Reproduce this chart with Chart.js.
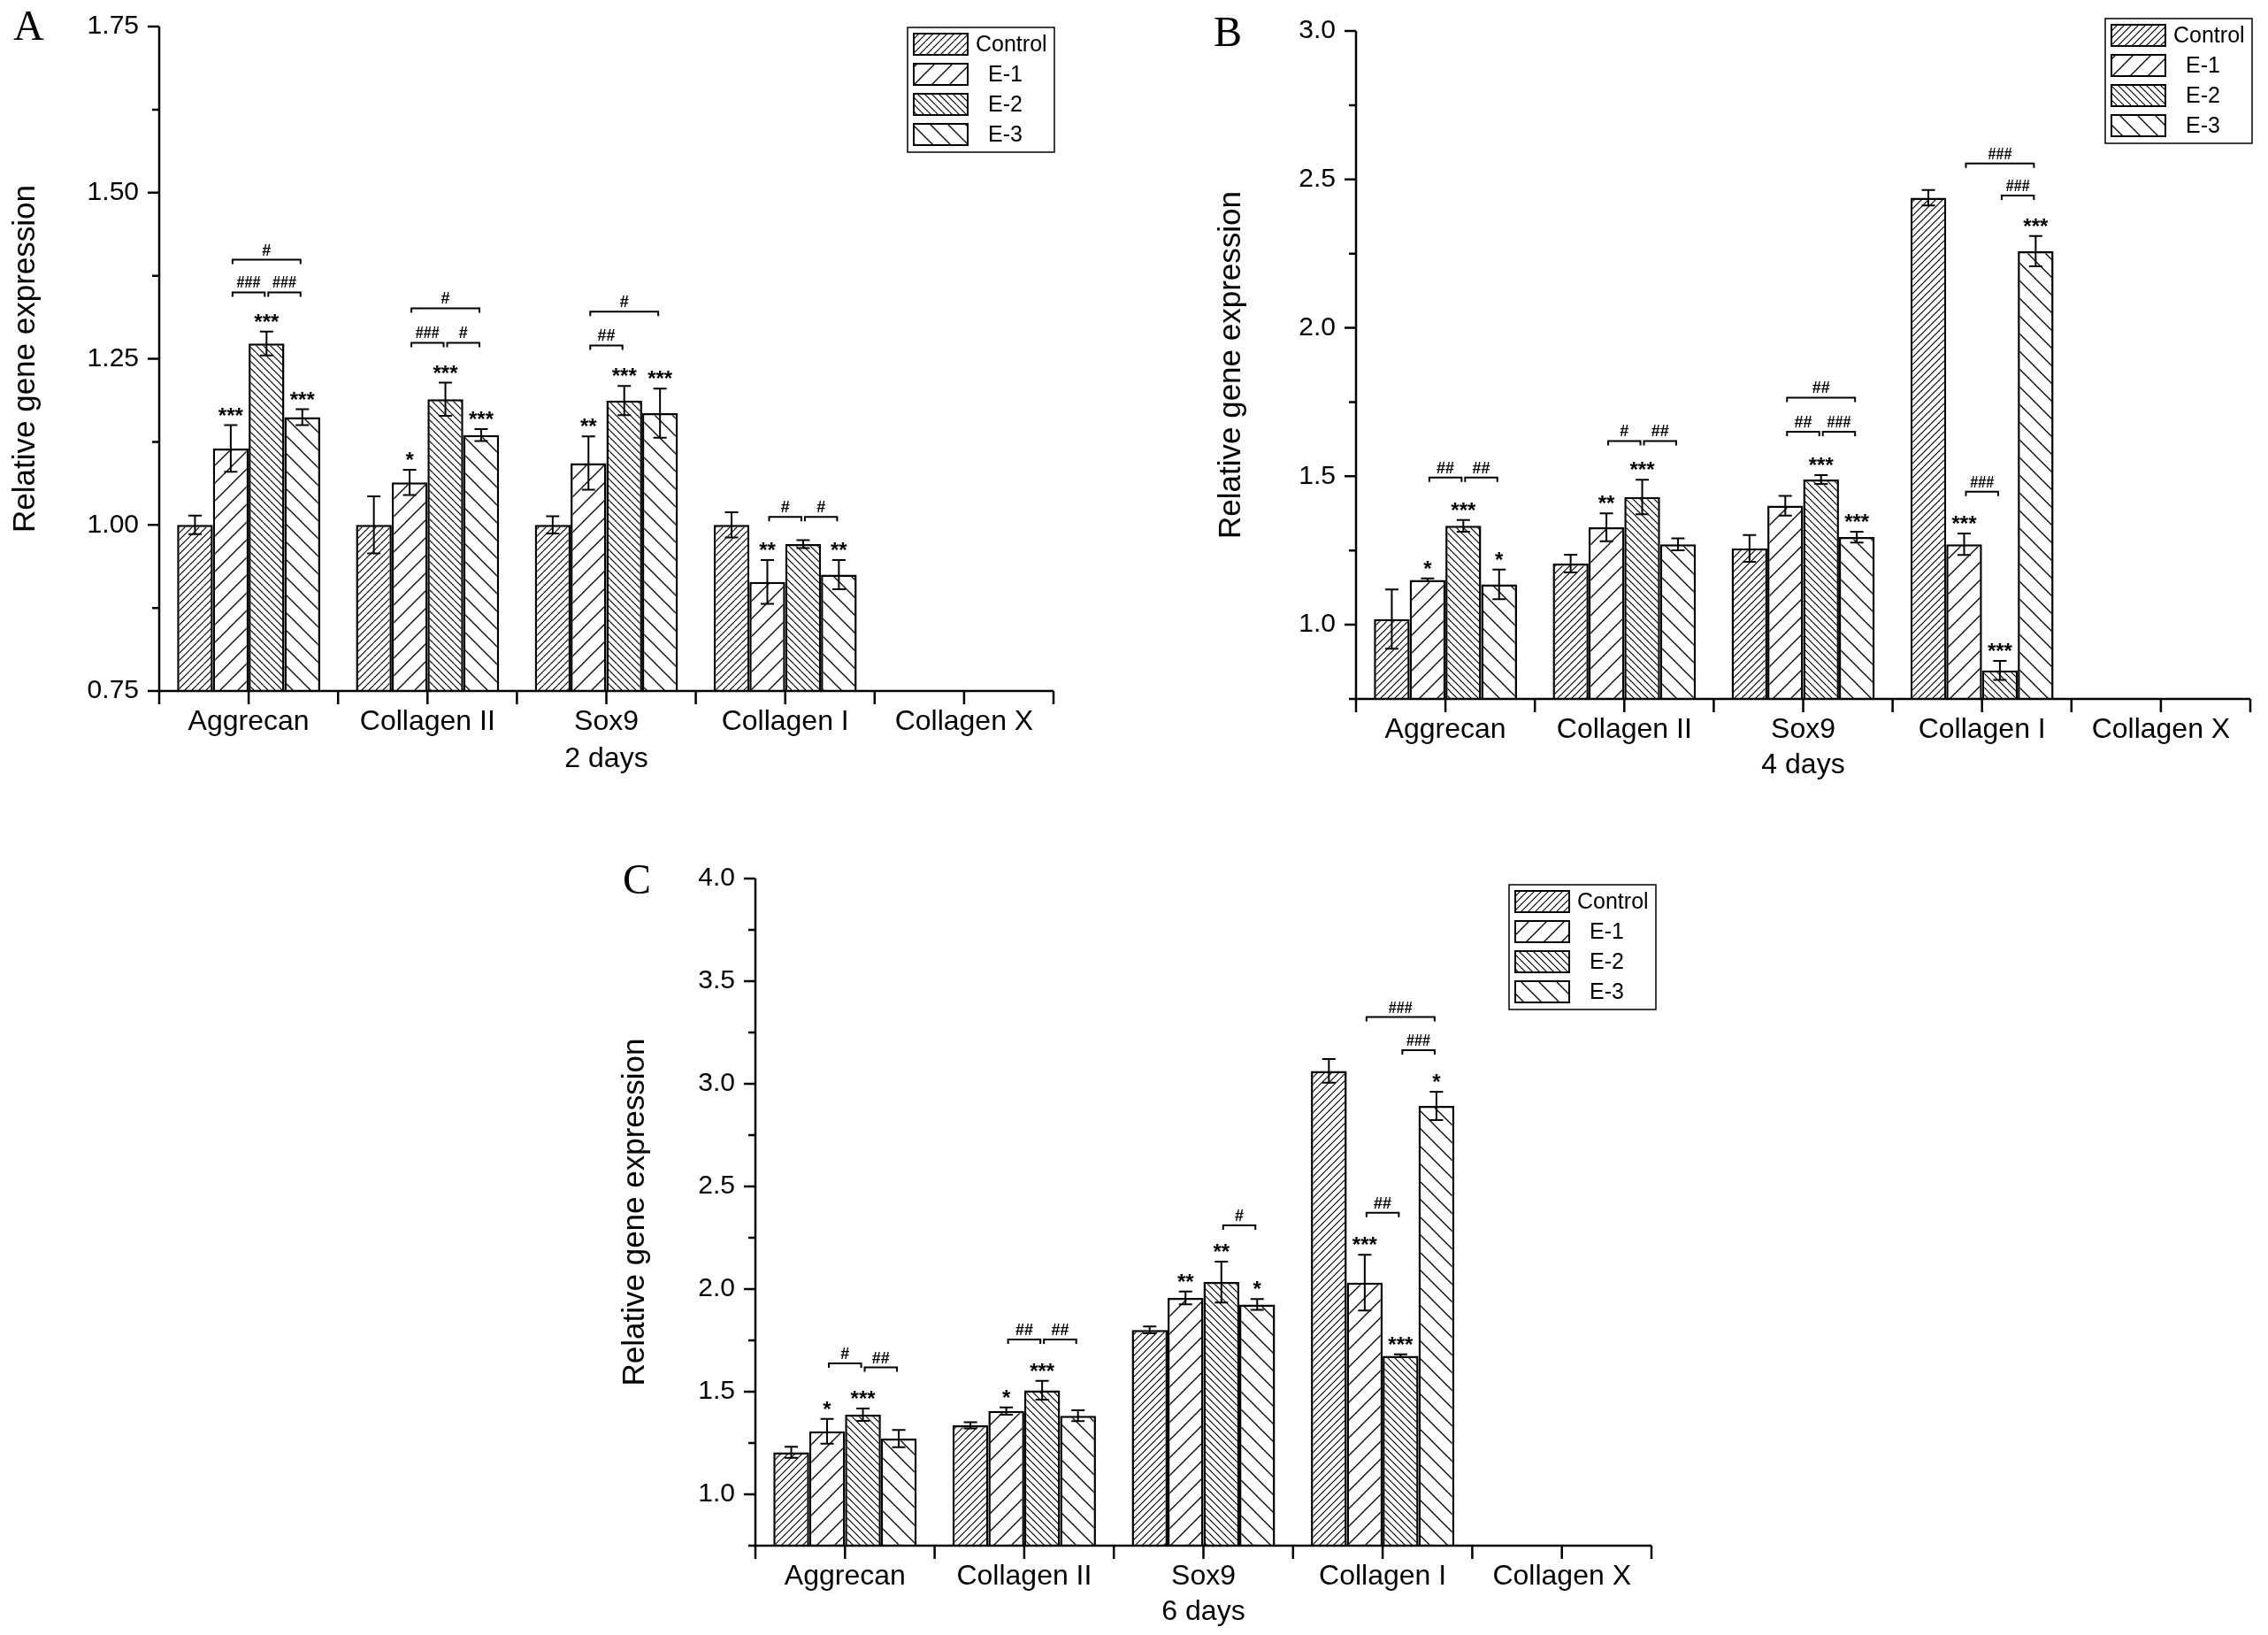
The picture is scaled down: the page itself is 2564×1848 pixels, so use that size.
<!DOCTYPE html>
<html>
<head>
<meta charset="utf-8">
<script src="https://cdn.jsdelivr.net/npm/chart.js@4.4.0/dist/chart.umd.min.js"></script>
<style>
  html, body { margin: 0; padding: 0; background: #fff; }
  body { width: 2564px; height: 1848px; position: relative; overflow: hidden; }
  canvas { position: absolute; }
  .letter { position: absolute; font-family: 'Liberation Serif', 'Times New Roman', serif; font-size: 48px; line-height: 48px; color: #000; }
</style>
</head>
<body>
<canvas id="chartA" width="1240" height="911" style="left:0px;top:-11px"></canvas>
<canvas id="chartB" width="1224" height="906" style="left:1340px;top:-6px"></canvas>
<canvas id="chartC" width="1280" height="898" style="left:640px;top:950px"></canvas>
<div class="letter" style="left:15px;top:5px">A</div>
<div class="letter" style="left:1372px;top:12px">B</div>
<div class="letter" style="left:704px;top:970px">C</div>
<script>
const categories = ['Aggrecan', 'Collagen II', 'Sox9', 'Collagen I', 'Collagen X'];
const groupNames = ['Control', 'E-1', 'E-2', 'E-3'];

// A - 2 days
const controlA = [1.000, 1.000, 1.000, 1.000, null];
const e1A = [1.115, 1.064, 1.093, 0.914, null];
const e2A = [1.273, 1.189, 1.187, 0.971, null];
const e3A = [1.162, 1.135, 1.168, 0.925, null];
const controlErrA = [0.014, 0.043, 0.013, 0.019, null];
const e1ErrA = [0.035, 0.019, 0.040, 0.033, null];
const e2ErrA = [0.018, 0.025, 0.022, 0.006, null];
const e3ErrA = [0.012, 0.009, 0.037, 0.022, null];
const starsA = [
  ['', '', '', '', ''],
  ['***', '*', '**', '**', ''],
  ['***', '***', '***', '', ''],
  ['***', '***', '***', '**', '']
];
// [category, from group, to group, y value, label]
const bracketsA = [
  [0, 1, 2, 1.350, '###'], [0, 2, 3, 1.350, '###'], [0, 1, 3, 1.399, '#'],
  [1, 1, 2, 1.274, '###'], [1, 2, 3, 1.274, '#'], [1, 1, 3, 1.326, '#'],
  [2, 1, 2, 1.270, '##'], [2, 1, 3, 1.321, '#'],
  [3, 1, 2, 1.012, '#'], [3, 2, 3, 1.012, '#']
];

// B - 4 days
const controlB = [1.019, 1.206, 1.257, 2.438, null];
const e1B = [1.151, 1.328, 1.401, 1.271, null];
const e2B = [1.333, 1.430, 1.489, 0.846, null];
const e3B = [1.136, 1.271, 1.295, 2.258, null];
const controlErrB = [0.100, 0.030, 0.045, 0.026, null];
const e1ErrB = [0.005, 0.047, 0.033, 0.036, null];
const e2ErrB = [0.020, 0.058, 0.015, 0.032, null];
const e3ErrB = [0.050, 0.020, 0.018, 0.051, null];
const starsB = [
  ['', '', '', '', ''],
  ['*', '**', '', '***', ''],
  ['***', '***', '***', '***', ''],
  ['*', '', '***', '***', '']
];
const bracketsB = [
  [0, 1, 2, 1.496, '##'], [0, 2, 3, 1.496, '##'],
  [1, 1, 2, 1.619, '#'], [1, 2, 3, 1.619, '##'],
  [2, 1, 2, 1.650, '##'], [2, 2, 3, 1.650, '###'], [2, 1, 3, 1.765, '##'],
  [3, 1, 2, 1.448, '###'], [3, 2, 3, 2.446, '###'], [3, 1, 3, 2.554, '###']
];

// C - 6 days
const controlC = [1.205, 1.336, 1.801, 3.063, null];
const e1C = [1.307, 1.406, 1.957, 2.031, null];
const e2C = [1.388, 1.507, 2.034, 1.675, null];
const e3C = [1.272, 1.383, 1.925, 2.892, null];
const controlErrC = [0.027, 0.015, 0.017, 0.058, null];
const e1ErrC = [0.060, 0.018, 0.031, 0.136, null];
const e2ErrC = [0.030, 0.046, 0.100, 0.007, null];
const e3ErrC = [0.042, 0.026, 0.026, 0.069, null];
const starsC = [
  ['', '', '', '', ''],
  ['*', '*', '**', '***', ''],
  ['***', '***', '**', '***', ''],
  ['', '', '*', '*', '']
];
const bracketsC = [
  [0, 1, 2, 1.638, '#'], [0, 2, 3, 1.618, '##'],
  [1, 1, 2, 1.754, '##'], [1, 2, 3, 1.754, '##'],
  [2, 2, 3, 2.310, '#'],
  [3, 1, 2, 2.372, '##'], [3, 2, 3, 3.164, '###'], [3, 1, 3, 3.325, '###']
];

const FONT = "'Liberation Sans', Arial, Helvetica, sans-serif";
Chart.defaults.font.family = FONT;
Chart.defaults.color = '#000';

// diagonal hatch tile; dir 1 = "/", dir -1 = "\"
function hatch(ctx, size, dir, lw) {
  const c = document.createElement('canvas');
  c.width = c.height = size;
  const g = c.getContext('2d');
  g.fillStyle = '#fff';
  g.fillRect(0, 0, size, size);
  g.strokeStyle = '#000';
  g.lineWidth = lw;
  g.beginPath();
  if (dir > 0) {
    g.moveTo(-1, size + 1); g.lineTo(size + 1, -1);
    g.moveTo(-1, 1); g.lineTo(1, -1);
    g.moveTo(size - 1, size + 1); g.lineTo(size + 1, size - 1);
  } else {
    g.moveTo(-1, -1); g.lineTo(size + 1, size + 1);
    g.moveTo(size - 1, -1); g.lineTo(size + 1, 1);
    g.moveTo(-1, size - 1); g.lineTo(1, size + 1);
  }
  g.stroke();
  return ctx.createPattern(c, 'repeat');
}

const extras = {
  id: 'extras',
  afterDatasetsDraw(chart, args, o) {
    const ctx = chart.ctx, y = chart.scales.y;
    ctx.save();
    ctx.strokeStyle = '#000';
    ctx.lineWidth = 2;
    chart.data.datasets.forEach((ds, di) => {
      chart.getDatasetMeta(di).data.forEach((bar, i) => {
        const v = ds.data[i], e = o.errors[di][i];
        if (v == null || e == null) return;
        const yt = y.getPixelForValue(v + e), yb = y.getPixelForValue(v - e);
        ctx.beginPath();
        ctx.moveTo(bar.x, yt); ctx.lineTo(bar.x, yb);
        ctx.moveTo(bar.x - 7.5, yt); ctx.lineTo(bar.x + 7.5, yt);
        ctx.moveTo(bar.x - 7.5, yb); ctx.lineTo(bar.x + 7.5, yb);
        ctx.stroke();
      });
    });
    ctx.restore();
  },
  afterDraw(chart, args, o) {
    const ctx = chart.ctx, x = chart.scales.x, y = chart.scales.y;
    const {left, right, top, bottom} = chart.chartArea;
    ctx.save();
    ctx.strokeStyle = '#000';
    ctx.fillStyle = '#000';

    // axes and tick marks
    ctx.lineWidth = 2.5;
    ctx.beginPath();
    ctx.moveTo(left, top); ctx.lineTo(left, bottom); ctx.lineTo(right, bottom);
    y.ticks.forEach(t => {
      const py = y.getPixelForValue(t.value);
      ctx.moveTo(left - (t.label ? 13 : 8), py); ctx.lineTo(left, py);
    });
    for (let i = 0; i <= categories.length; i++) {
      const pb = x.getPixelForValue(i - 0.5);
      ctx.moveTo(pb, bottom); ctx.lineTo(pb, bottom + 15);
      if (i < categories.length) {
        const pc = x.getPixelForValue(i);
        ctx.moveTo(pc, bottom); ctx.lineTo(pc, bottom + 15);
      }
    }
    ctx.stroke();

    // significance stars
    ctx.font = 'bold 24px ' + FONT;
    ctx.textAlign = 'center';
    ctx.textBaseline = 'alphabetic';
    chart.data.datasets.forEach((ds, di) => {
      chart.getDatasetMeta(di).data.forEach((bar, i) => {
        const s = o.stars[di][i];
        if (!s) return;
        const e = o.errors[di][i] || 0;
        ctx.fillText(s, bar.x, y.getPixelForValue(ds.data[i] + e) - 3);
      });
    });

    // # brackets
    ctx.lineWidth = 2;
    ctx.font = 'bold 18px ' + FONT;
    o.brackets.forEach(([c, g1, g2, val, txt]) => {
      const b1 = chart.getDatasetMeta(g1).data[c], b2 = chart.getDatasetMeta(g2).data[c];
      const x1 = b1.x + 2, x2 = b2.x - 2, py = y.getPixelForValue(val);
      ctx.beginPath();
      ctx.moveTo(x1, py + 5); ctx.lineTo(x1, py); ctx.lineTo(x2, py); ctx.lineTo(x2, py + 5);
      ctx.stroke();
      ctx.fillText(txt, (x1 + x2) / 2, py - 5, 7 * txt.length + 6);
    });

    // legend box
    const L = o.legend;
    ctx.lineWidth = 1.5;
    ctx.strokeRect(L.x, L.y, 166, 141);
    ctx.font = '25px ' + FONT;
    ctx.textAlign = 'left';
    ctx.textBaseline = 'middle';
    chart.data.datasets.forEach((ds, k) => {
      const sy = L.y + 7 + 34 * k;
      ctx.fillStyle = ds.backgroundColor;
      ctx.fillRect(L.x + 7, sy, 61, 24);
      ctx.lineWidth = 2;
      ctx.strokeRect(L.x + 7, sy, 61, 24);
      ctx.fillStyle = '#000';
      ctx.fillText(ds.label, L.x + (k === 0 ? 77 : 91), sy + 13);
    });
    ctx.restore();
  }
};

function buildPanel(id, series, errors, stars, brackets, yMin, yMax, step, labelStep, digits, dayText, L) {
  const canvas = document.getElementById(id);
  const ctx = canvas.getContext('2d');
  const pats = [hatch(ctx, 8, 1, 1.2), hatch(ctx, 20, 1, 1.3), hatch(ctx, 8, -1, 1.2), hatch(ctx, 20, -1, 1.3)];
  return new Chart(ctx, {
    type: 'bar',
    data: {
      labels: categories,
      datasets: groupNames.map((name, k) => ({
        label: name,
        data: series[k],
        backgroundColor: pats[k],
        borderColor: '#000',
        borderWidth: 2.5,
        borderSkipped: false,
        categoryPercentage: 0.8,
        barPercentage: 1.0
      }))
    },
    options: {
      responsive: false,
      animation: false,
      layout: { padding: { left: 0, top: L.padTop, right: L.padRight, bottom: 0 } },
      plugins: {
        legend: { display: false },
        tooltip: { enabled: false },
        extras: { errors: errors, stars: stars, brackets: brackets, legend: L.legend }
      },
      scales: {
        x: {
          grid: { display: false, drawTicks: false },
          border: { display: false },
          ticks: { font: { size: 32 }, padding: 16, autoSkip: false, maxRotation: 0 },
          title: { display: true, text: dayText, font: { size: 32 }, padding: L.xTitlePad },
          afterFit: s => { s.height = L.xHeight; }
        },
        y: {
          min: yMin,
          max: yMax,
          grid: { display: false, drawTicks: false },
          border: { display: false },
          ticks: {
            stepSize: step,
            font: { size: 30 },
            padding: 23,
            callback: v => Math.abs(v / labelStep - Math.round(v / labelStep)) < 1e-9 ? v.toFixed(digits) : ''
          },
          title: { display: true, text: 'Relative gene expression', font: { size: 35 }, padding: L.yTitlePad },
          afterFit: s => { s.width = L.yWidth; }
        }
      }
    },
    plugins: [extras]
  });
}

buildPanel('chartA',
  [controlA, e1A, e2A, e3A], [controlErrA, e1ErrA, e2ErrA, e3ErrA], starsA, bracketsA,
  0.75, 1.75, 0.125, 0.25, 2, '2 days',
  { yWidth: 180, xHeight: 119, padTop: 40, padRight: 49, yTitlePad: 8, xTitlePad: 23, legend: { x: 1026, y: 42 } });

buildPanel('chartB',
  [controlB, e1B, e2B, e3B], [controlErrB, e1ErrB, e2ErrB, e3ErrB], starsB, bracketsB,
  0.75, 3.0, 0.25, 0.5, 1, '4 days',
  { yWidth: 193, xHeight: 110, padTop: 40, padRight: 20, yTitlePad: 31, xTitlePad: 16, legend: { x: 1040, y: 27 } });

buildPanel('chartC',
  [controlC, e1C, e2C, e3C], [controlErrC, e1ErrC, e2ErrC, e3ErrC], starsC, bracketsC,
  0.75, 4.0, 0.25, 0.5, 1, '6 days',
  { yWidth: 214, xHeight: 101, padTop: 43, padRight: 53, yTitlePad: 57, xTitlePad: 7, legend: { x: 1066, y: 50 } });
</script>
</body>
</html>
